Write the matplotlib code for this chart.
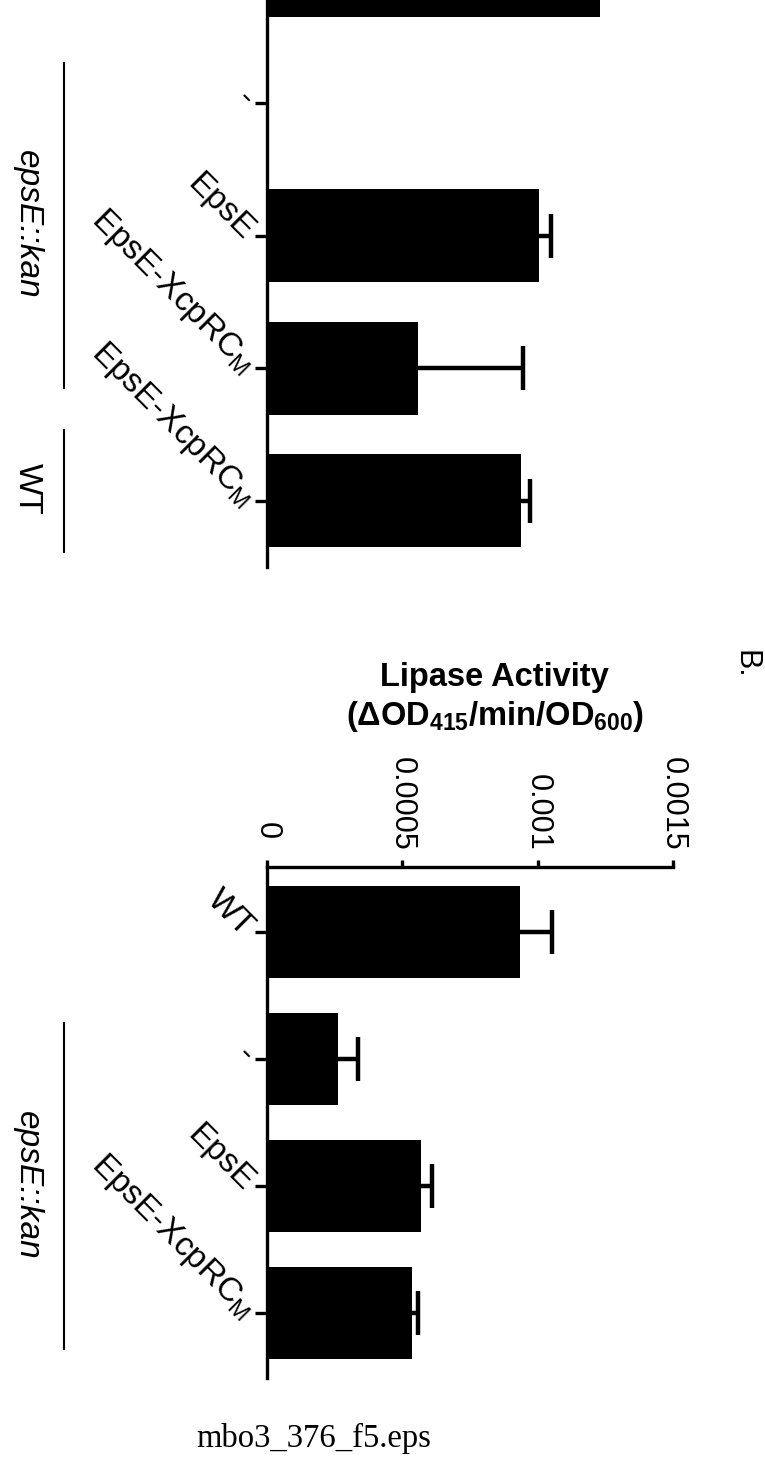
import matplotlib
matplotlib.use('Agg')
import matplotlib.pyplot as plt
import numpy as np
from matplotlib.transforms import blended_transform_factory, ScaledTranslation

plt.rcParams['font.family'] = ['Liberation Sans', 'DejaVu Sans']
plt.rcParams['mathtext.fontset'] = 'custom'
plt.rcParams['mathtext.rm'] = 'Liberation Sans'
plt.rcParams['mathtext.it'] = 'Liberation Sans:italic'
plt.rcParams['mathtext.bf'] = 'Liberation Sans:bold'

# ---------------- data ----------------
# Panel A (partly cut off at top of the page)
cats_a = ['WT', '-', 'EpsE', 'EpsE-XcpRC$_\\mathrm{M}$', 'EpsE-XcpRC$_\\mathrm{M}$']
vals_a = [0.00123, 0.0, 0.001005, 0.000560, 0.000938]
errs_a = [0.00005, 0.0, 0.000044, 0.000385, 0.000033]

# Panel B: Lipase activity
cats_b = ['WT', '-', 'EpsE', 'EpsE-XcpRC$_\\mathrm{M}$']
vals_b = [0.000934, 0.000264, 0.000568, 0.000538]
errs_b = [0.000119, 0.000074, 0.000044, 0.000019]

value_ticks = [0, 0.0005, 0.001, 0.0015]
value_tick_labels = ['0', '0.0005', '0.001', '0.0015']

# ---------------- figure ----------------
W, H = 765, 1462
fig = plt.figure(figsize=(W / 100, H / 100), dpi=100)

LW = 2.4
FS_TICK = 22
FS_CAT = 24


def px_axes(left, top, right, bottom):
    return fig.add_axes([left / W, 1 - bottom / H, (right - left) / W, (bottom - top) / H])


def style_panel(ax, cats, vals, errs, ylim, bar_h, show_value_labels=True, hidden_cats=()):
    n = len(cats)
    ypos = np.arange(n)
    ax.barh(ypos, vals, height=bar_h, color='black', edgecolor='none', zorder=3)
    for y, v, e in zip(ypos, vals, errs):
        if v > 0 and e > 0:
            # symmetric bar drawn behind the bar -> only the upper half shows
            ax.errorbar([v], [y], xerr=[e], fmt='none', ecolor='black',
                        elinewidth=3.2, capsize=15.5, capthick=3.2, zorder=2,
                        clip_on=False)
    ax.set_xlim(0, 0.0015)
    ax.set_ylim(*ylim)
    for s in ['right', 'bottom']:
        ax.spines[s].set_visible(False)
    for s in ['left', 'top']:
        ax.spines[s].set_linewidth(LW)
    ax.xaxis.tick_top()
    ax.set_xticks(value_ticks)
    ax.set_xticklabels(value_tick_labels if show_value_labels else [''] * len(value_ticks),
                       rotation=-90, fontsize=FS_TICK)
    ax.tick_params(axis='x', length=5, width=LW, pad=7)
    ax.set_yticks(ypos)
    ax.set_yticklabels(cats, fontsize=FS_CAT)
    ax.tick_params(axis='y', length=9, width=LW, pad=4)
    for i, lab in enumerate(ax.get_yticklabels()):
        lab.set_rotation(-45)
        lab.set_rotation_mode('anchor')
        lab.set_ha('right')
        lab.set_va('center')
        if i in hidden_cats:
            lab.set_visible(False)
    ax.patch.set_alpha(0)


# Panel A: axes extends beyond the top of the page (its value axis is cut off)
axA = px_axes(266.7, -95.9, 673, 567)
style_panel(axA, cats_a, vals_a, errs_a, (4.5, -0.5), 0.70,
            show_value_labels=False, hidden_cats=(0,))

# Panel B
axB = px_axes(266.7, 867, 673, 1378)
style_panel(axB, cats_b, vals_b, errs_b, (3.51, -0.51), 0.72)
# the "0" label sits a little higher in the original
zero_lab = axB.get_xticklabels()[0]
zero_lab.set_transform(zero_lab.get_transform() + ScaledTranslation(0, 11 / 100, fig.dpi_scale_trans))


# group lines and labels
def group(ax, y0, y1, label, ycenter_px, italic):
    tr = blended_transform_factory(fig.transFigure, ax.transData)
    ax.plot([64 / W, 64 / W], [y0, y1], color='black', lw=1.5, transform=tr, clip_on=False)
    fig.text(27 / W, 1 - ycenter_px / H, label, rotation=-90, ha='center', va='center',
             fontsize=FS_CAT, style='italic' if italic else 'normal')


group(axA, 0.70, 3.15, 'epsE::kan', 224, True)
group(axA, 3.47, 4.39, 'WT', 489, False)
group(axB, 0.72, 3.28, 'epsE::kan', 1185, True)

# axis title for panel B (horizontal)
fig.text(494 / W, 1 - 686 / H, 'Lipase Activity', ha='center', va='baseline',
         fontsize=23.5, fontweight='bold')
fig.text(495 / W, 1 - 725 / H,
         '(ΔOD$_{\\mathbf{415}}$/min/OD$_{\\mathbf{600}}$)', ha='center', va='baseline',
         fontsize=23.5, fontweight='bold')

# panel letter
fig.text(745 / W, 1 - 664 / H, 'B.', rotation=-90, ha='center', va='center', fontsize=FS_TICK)

# file caption
fig.text(314 / W, 1 - 1447 / H, 'mbo3_376_f5.eps', ha='center', va='baseline',
         fontsize=23.5, family=['Liberation Serif', 'DejaVu Serif'])

fig.savefig('out.png', dpi=100)
